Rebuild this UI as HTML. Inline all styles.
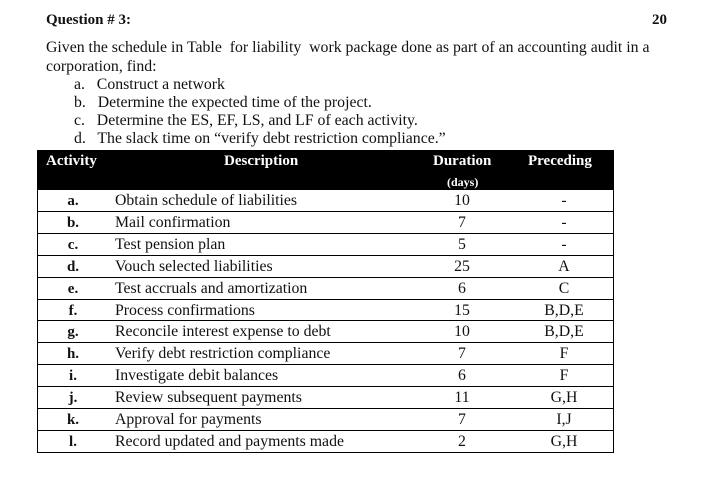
<!DOCTYPE html>
<html><head><meta charset="utf-8"><style>
body{margin:0;width:718px;height:483px;background:#fff;font-family:"Liberation Serif",serif;color:#111;position:relative;overflow:hidden}
.t{position:absolute;white-space:nowrap;font-size:15.8px;line-height:18px}
.b{font-weight:bold;font-size:15px}
#tbl{position:absolute;left:37px;top:150px;width:575px;height:301px;border:1px solid #000}
#hd{position:absolute;left:0;top:0;width:575px;height:39px;background:#000}
.h{position:absolute;color:#fff;font-weight:bold;font-size:15px;white-space:nowrap}
.r{position:absolute;left:0;width:575px;height:22px;border-top:1px solid #000;font-size:15.8px;line-height:22px}
.r span{position:absolute;white-space:nowrap}
.c1{left:25px;width:20px;text-align:center;font-weight:bold;font-size:15px}
.c2{left:77px}
.c3{left:399px;width:50px;text-align:center}
.c4{left:500px;width:52px;text-align:center}
</style></head><body>
<div class="t b" style="left:46px;top:11px">Question # 3:</div>
<div class="t b" style="left:652px;top:11px">20</div>
<div class="t" style="left:46px;top:39px">Given the schedule in Table&nbsp; for liability&nbsp; work package done as part of an accounting audit in a</div>
<div class="t" style="left:46px;top:58px">corporation, find:</div>
<div class="t" style="left:74px;top:76px">a.&nbsp;&nbsp; Construct a network</div>
<div class="t" style="left:74px;top:94px">b.&nbsp;&nbsp; Determine the expected time of the project.</div>
<div class="t" style="left:74px;top:112px">c.&nbsp;&nbsp; Determine the ES, EF, LS, and LF of each activity.</div>
<div class="t" style="left:74px;top:130px">d.&nbsp;&nbsp; The slack time on “verify debt restriction compliance.”</div>
<div id="tbl">
<div id="hd">
<div class="h" style="left:8px;top:2px">Activity</div>
<div class="h" style="left:186px;top:2px">Description</div>
<div class="h" style="left:395px;top:2px">Duration</div>
<div class="h" style="left:490px;top:2px">Preceding</div>
<div class="h" style="left:409px;top:24px;font-size:12px">(days)</div>
</div>
<div class="r" style="top:38px"><span class="c1">a.</span><span class="c2">Obtain schedule of liabilities</span><span class="c3">10</span><span class="c4">-</span></div>
<div class="r" style="top:60px"><span class="c1">b.</span><span class="c2">Mail confirmation</span><span class="c3">7</span><span class="c4">-</span></div>
<div class="r" style="top:82px"><span class="c1">c.</span><span class="c2">Test pension plan</span><span class="c3">5</span><span class="c4">-</span></div>
<div class="r" style="top:104px"><span class="c1">d.</span><span class="c2">Vouch selected liabilities</span><span class="c3">25</span><span class="c4">A</span></div>
<div class="r" style="top:126px"><span class="c1">e.</span><span class="c2">Test accruals and amortization</span><span class="c3">6</span><span class="c4">C</span></div>
<div class="r" style="top:148px"><span class="c1">f.</span><span class="c2">Process confirmations</span><span class="c3">15</span><span class="c4">B,D,E</span></div>
<div class="r" style="top:169px"><span class="c1">g.</span><span class="c2">Reconcile interest expense to debt</span><span class="c3">10</span><span class="c4">B,D,E</span></div>
<div class="r" style="top:191px"><span class="c1">h.</span><span class="c2">Verify debt restriction compliance</span><span class="c3">7</span><span class="c4">F</span></div>
<div class="r" style="top:213px"><span class="c1">i.</span><span class="c2">Investigate debit balances</span><span class="c3">6</span><span class="c4">F</span></div>
<div class="r" style="top:235px"><span class="c1">j.</span><span class="c2">Review subsequent payments</span><span class="c3">11</span><span class="c4">G,H</span></div>
<div class="r" style="top:257px"><span class="c1">k.</span><span class="c2">Approval for payments</span><span class="c3">7</span><span class="c4">I,J</span></div>
<div class="r" style="top:279px"><span class="c1">l.</span><span class="c2">Record updated and payments made</span><span class="c3">2</span><span class="c4">G,H</span></div>
</div>
</body></html>
